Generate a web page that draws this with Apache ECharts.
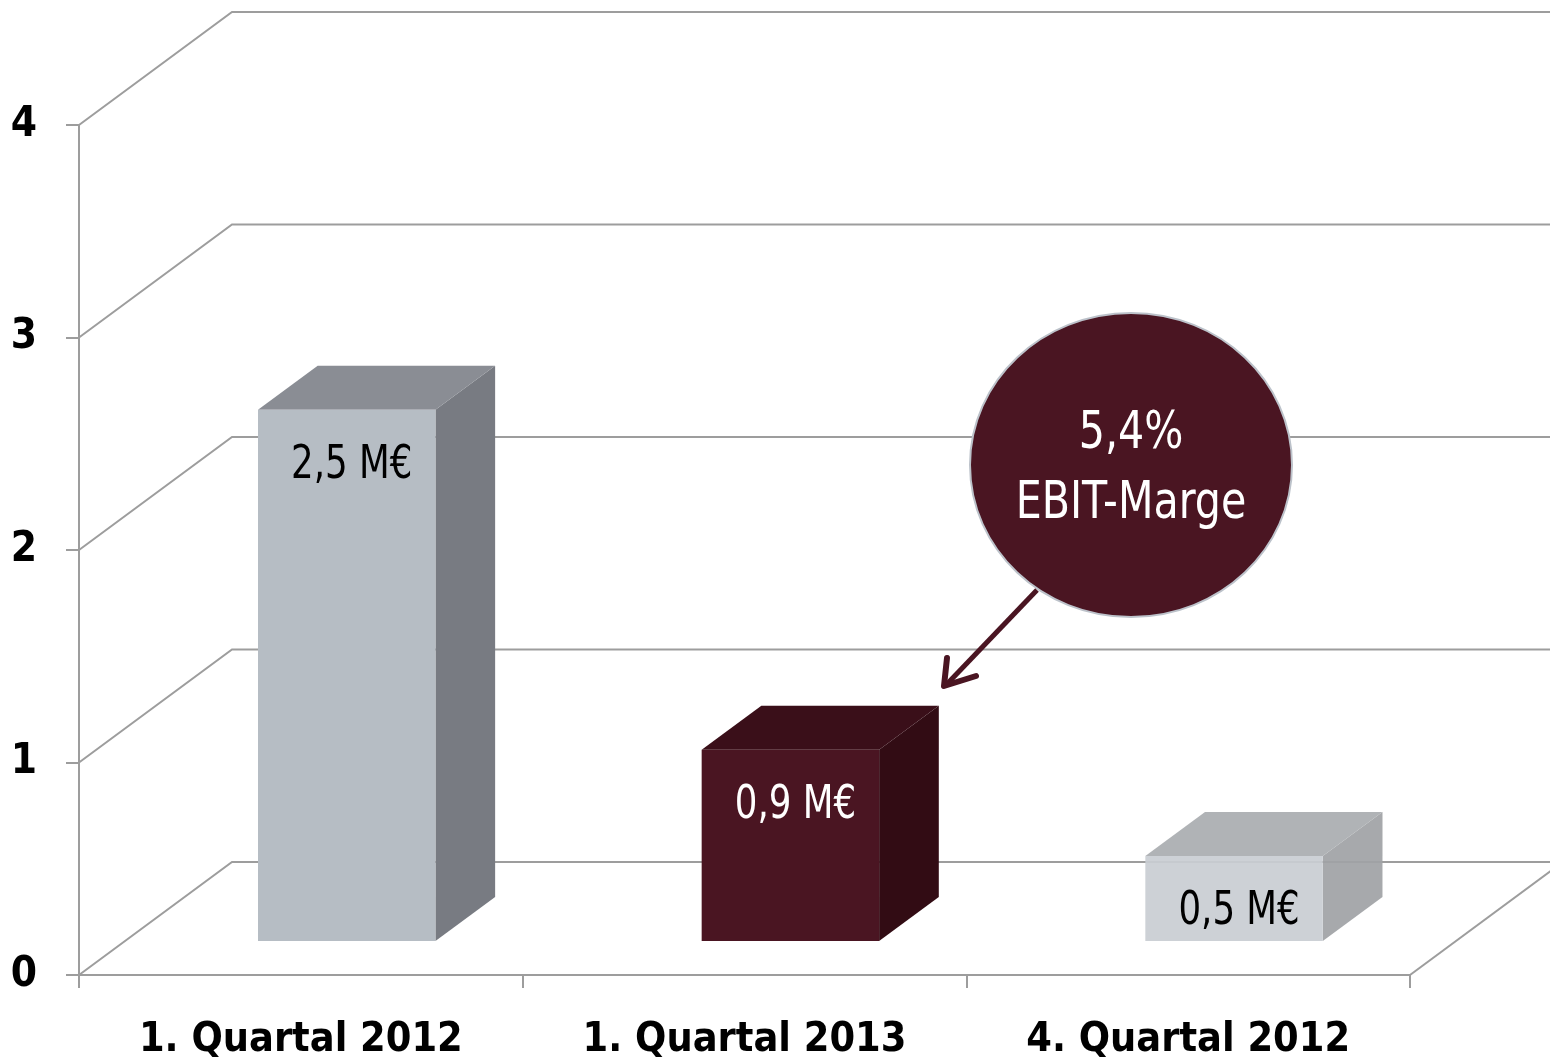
<!DOCTYPE html>
<html>
<head>
<meta charset="utf-8">
<script src="https://cdn.jsdelivr.net/npm/echarts@6/dist/echarts.min.js"></script>
<style>
html, body { margin: 0; padding: 0; background: #fff; }
#chart { width: 1550px; height: 1063px; }
</style>
</head>
<body>
<div id="chart"></div>
<script>
// 数据
const categories = ['1. Quartal 2012', '1. Quartal 2013', '4. Quartal 2012'];
const values = [2.5, 0.9, 0.4];
const valueLabels = ['2,5 M€', '0,9 M€', '0,5 M€'];
const yTicks = [0, 1, 2, 3, 4];
const calloutLines = ['5,4%', 'EBIT-Marge'];

// 样式
const FONT = '"Liberation Sans Narrow", "DejaVu Sans Condensed", "Roboto Condensed", sans-serif';
const lineColor = '#9d9d9d';
const barColors = [
  { front: '#b6bdc4', top: '#8a8d94', side: '#787b82', text: '#000', opacity: 1 },
  { front: '#4a1522', top: '#3a0f19', side: '#320c14', text: '#fff', opacity: 1 },
  { front: '#c9cdd3', top: '#aaadb0', side: '#a0a3a6', text: '#000', opacity: 0.93 }
];
// 透视偏移（后墙相对前面）
const DX = 153, DY = -113;
const F0 = 0.3, F1 = 0.69;

const chart = echarts.init(document.getElementById('chart'));

// 侧墙 + 后墙网格线
const renderWall = (params, api) => {
  const cs = params.coordSys;
  const v = api.value(0);
  const y = api.coord([0, v])[1];
  const x0 = cs.x, x1 = cs.x + cs.width;
  const style = { stroke: lineColor, lineWidth: 2, fill: null };
  const children = [
    { type: 'polyline', shape: { points: [[x0, y], [x0 + DX, y + DY], [x1 + DX, y + DY]] }, style }
  ];
  if (v === yTicks[0]) {
    children.push({ type: 'line', shape: { x1: x1, y1: y, x2: x1 + DX, y2: y + DY }, style });
  }
  return { type: 'group', children };
};

// 3D 柱子
const renderBar = (params, api) => {
  const i = api.value(0);
  const top = api.coord([i, api.value(1)]);
  const base = api.coord([i, 0]);
  const w = api.size([1, 0])[0] * 0.4;
  const c = barColors[i];
  const xl = top[0] - w / 2 + DX * F0, xr = xl + w;
  const yt = top[1] + DY * F0, yb = base[1] + DY * F0;
  const ddx = DX * (F1 - F0), ddy = DY * (F1 - F0);
  return {
    type: 'group',
    children: [
      { type: 'polygon', shape: { points: [[xr, yt], [xr + ddx, yt + ddy], [xr + ddx, yb + ddy], [xr, yb]] }, style: { fill: c.side, opacity: c.opacity } },
      { type: 'polygon', shape: { points: [[xl, yt], [xl + ddx, yt + ddy], [xr + ddx, yt + ddy], [xr, yt]] }, style: { fill: c.top, opacity: c.opacity } },
      { type: 'rect', shape: { x: xl, y: yt, width: w, height: yb - yt }, style: { fill: c.front, opacity: c.opacity } },
      {
        type: 'text', x: (xl + xr) / 2 + 5, y: yt + 56, scaleX: 0.86,
        style: { text: valueLabels[i], fill: c.text, fontSize: 46, fontFamily: FONT, align: 'center', verticalAlign: 'middle' }
      }
    ]
  };
};

const axisLineStyle = { color: lineColor, width: 2 };

const option = {
  animation: false,
  backgroundColor: '#fff',
  grid: { left: 79, right: 140, top: 125, bottom: 88, containLabel: false },
  xAxis: {
    type: 'category',
    data: categories,
    axisLine: { lineStyle: axisLineStyle },
    axisTick: { show: true, interval: 0, length: 13, lineStyle: axisLineStyle },
    axisLabel: { interval: 0, color: '#000', fontFamily: FONT, fontSize: 41, fontWeight: 'bold', margin: 45 },
  },
  yAxis: {
    type: 'value',
    min: 0,
    max: 4,
    interval: 1,
    axisLine: { show: true, lineStyle: axisLineStyle },
    axisTick: { show: true, length: 13, lineStyle: axisLineStyle },
    splitLine: { show: false },
    axisLabel: { color: '#000', fontFamily: FONT, fontSize: 42, fontWeight: 'bold', margin: 42 },
  },
  series: [
    {
      type: 'custom',
      renderItem: renderWall,
      data: yTicks.map(v => [v]),
      encode: { y: 0 },
      clip: false,
      silent: true,
      z: 1,
    },
    {
      type: 'custom',
      renderItem: renderBar,
      data: values.map((v, i) => [i, v]),
      encode: { x: 0, y: 1 },
      clip: false,
      z: 2,
    },
  ],
  graphic: [
    {
      type: 'ellipse',
      shape: { cx: 1131, cy: 465, rx: 161, ry: 152 },
      style: { fill: '#4a1522', stroke: '#bcc2ca', lineWidth: 2 },
      z: 10,
    },
    {
      type: 'text', x: 1131, y: 434, z: 11, scaleX: 0.88,
      style: { text: calloutLines[0], fill: '#fff', fontSize: 52, fontFamily: FONT, align: 'center', verticalAlign: 'middle' }
    },
    {
      type: 'text', x: 1131, y: 504, z: 11, scaleX: 0.88,
      style: { text: calloutLines[1], fill: '#fff', fontSize: 52, fontFamily: FONT, align: 'center', verticalAlign: 'middle' }
    },
    {
      type: 'line', z: 10,
      shape: { x1: 1037, y1: 590, x2: 947, y2: 684 },
      style: { stroke: '#4a1522', lineWidth: 5 }
    },
    {
      type: 'polyline', z: 10,
      shape: { points: [[947, 658], [944, 686], [976, 676]] },
      style: { stroke: '#4a1522', lineWidth: 6, fill: null, lineJoin: 'round', lineCap: 'round' }
    },
  ],
};

chart.setOption(option);
window.addEventListener('resize', () => chart.resize());
</script>
</body>
</html>
